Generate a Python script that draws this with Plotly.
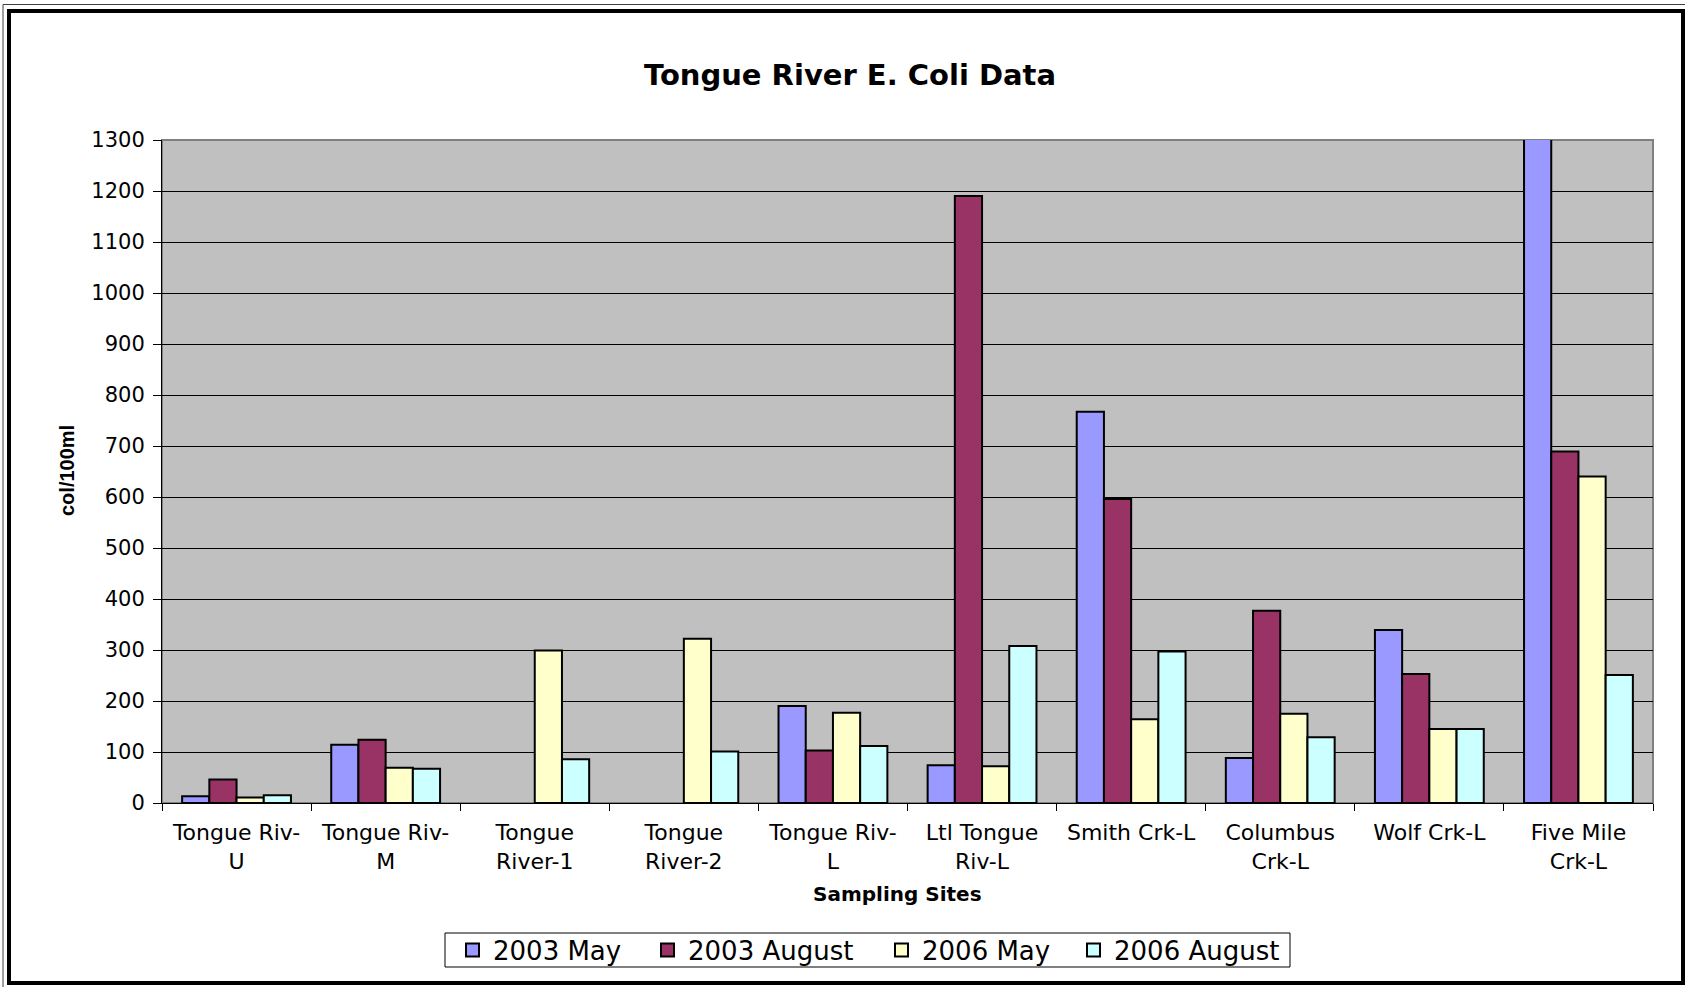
import plotly.graph_objects as go

# Sampling sites and E. coli counts (col/100ml)
sites = ["Tongue Riv-U", "Tongue Riv-M", "Tongue River-1", "Tongue River-2",
         "Tongue Riv-L", "Ltl Tongue Riv-L", "Smith Crk-L", "Columbus Crk-L",
         "Wolf Crk-L", "Five Mile Crk-L"]
site_labels = ["Tongue Riv-<br>U", "Tongue Riv-<br>M", "Tongue<br>River-1",
               "Tongue<br>River-2", "Tongue Riv-<br>L", "Ltl Tongue<br>Riv-L",
               "Smith Crk-L", "Columbus<br>Crk-L", "Wolf Crk-L", "Five Mile<br>Crk-L"]

may_2003 = [13, 114, None, None, 190, 74, 767, 88, 339, 1310]
aug_2003 = [46, 124, None, None, 103, 1190, 596, 377, 253, 689]
may_2006 = [11, 69, 299, 322, 177, 72, 164, 175, 145, 640]
aug_2006 = [15, 67, 86, 101, 112, 308, 297, 129, 145, 251]

series_names = ["2003 May", "2003 August", "2006 May", "2006 August"]
series_colors = ["#9999FF", "#993366", "#FFFFCC", "#CCFFFF"]
y_ticks = list(range(0, 1301, 100))

W, H = 1685, 987
ML, MR, MT, MB = 162, 32, 140, 184
PW, PH = W - ML - MR, H - MT - MB


def px_x(px):
    return (px - ML) / PW


def px_y(py):
    return 1 - (py - MT) / PH


fig = go.Figure()
for name, vals, col in zip(series_names, [may_2003, aug_2003, may_2006, aug_2006], series_colors):
    fig.add_trace(go.Bar(
        name=name, x=sites, y=vals,
        marker=dict(color=col, line=dict(color="black", width=2)),
        cliponaxis=False,
        showlegend=False,
    ))

fig.update_layout(
    width=W, height=H,
    margin=dict(l=ML, r=MR, t=MT, b=MB, pad=0, autoexpand=False),
    paper_bgcolor="white",
    plot_bgcolor="#C0C0C0",
    barmode="group",
    bargap=0.27,
    bargroupgap=0,
    title=dict(
        text="<b>Tongue River E. Coli Data</b>",
        font=dict(family="DejaVu Sans", size=29, color="black"),
        x=850 / W, xref="container", xanchor="center",
        y=1 - 75 / H, yref="container", yanchor="middle",
    ),
    xaxis=dict(
        tickmode="array", tickvals=sites, ticktext=site_labels,
        tickfont=dict(family="DejaVu Sans", size=22, color="black"),
        ticks="outside", ticklen=7, tickcolor="black", tickwidth=1,
        tickson="boundaries",
        showline=True, linecolor="black", linewidth=1,
        showgrid=False, zeroline=False,
        tickangle=0, automargin=False,
        ticklabelstandoff=10,
    ),
    yaxis=dict(
        range=[0, 1300],
        tickmode="array", tickvals=y_ticks,
        tickfont=dict(family="DejaVu Sans", size=21, color="black"),
        ticks="outside", ticklen=8, tickcolor="black", tickwidth=1,
        showline=True, linecolor="black", linewidth=1,
        showgrid=True, gridcolor="black", gridwidth=1,
        zeroline=False, automargin=False,
        ticklabelstandoff=4,
    ),
    showlegend=False,
)

# plot-area border (grey, drawn beneath the bars)
fig.add_shape(type="rect", xref="paper", yref="paper", x0=0, y0=0, x1=1, y1=1,
              line=dict(color="#808080", width=2), layer="between")

# outer double frame
fig.add_shape(type="rect", xref="paper", yref="paper",
              x0=px_x(3), y0=px_y(4.5), x1=px_x(1692), y1=px_y(995),
              line=dict(color="#404040", width=1))
fig.add_shape(type="rect", xref="paper", yref="paper",
              x0=px_x(9), y0=px_y(11), x1=px_x(1683), y1=px_y(983),
              line=dict(color="black", width=4))

# legend box with swatches
legend_box = (445, 933, 1290, 967)
swatch_left = [466, 661, 895, 1087]
swatch_size = 13
legend_mid = (legend_box[1] + legend_box[3]) / 2
fig.add_shape(type="rect", xref="paper", yref="paper",
              x0=px_x(legend_box[0]), y0=px_y(legend_box[1]),
              x1=px_x(legend_box[2]), y1=px_y(legend_box[3]),
              line=dict(color="black", width=1), fillcolor="white")
for name, col, sx in zip(series_names, series_colors, swatch_left):
    fig.add_shape(type="rect", xref="paper", yref="paper",
                  x0=px_x(sx), x1=px_x(sx + swatch_size),
                  y0=px_y(legend_mid - swatch_size / 2), y1=px_y(legend_mid + swatch_size / 2),
                  line=dict(color="black", width=2), fillcolor=col)
    fig.add_annotation(text=name, xref="paper", yref="paper",
                       x=px_x(sx + swatch_size + 12), y=px_y(legend_mid + 1),
                       xanchor="left", yanchor="middle", showarrow=False,
                       font=dict(family="DejaVu Sans", size=26, color="black"))

# axis titles
fig.add_annotation(text="<b>Sampling Sites</b>", xref="paper", yref="paper",
                   x=px_x(897), y=px_y(894), xanchor="center", yanchor="middle",
                   showarrow=False,
                   font=dict(family="DejaVu Sans", size=20, color="black"))
fig.add_annotation(text="<b>col/100ml</b>", xref="paper", yref="paper",
                   x=px_x(67), y=px_y(470), xanchor="center", yanchor="middle",
                   textangle=-90, showarrow=False,
                   font=dict(family="Liberation Sans", size=20, color="black"))

fig.write_html("out.html")
